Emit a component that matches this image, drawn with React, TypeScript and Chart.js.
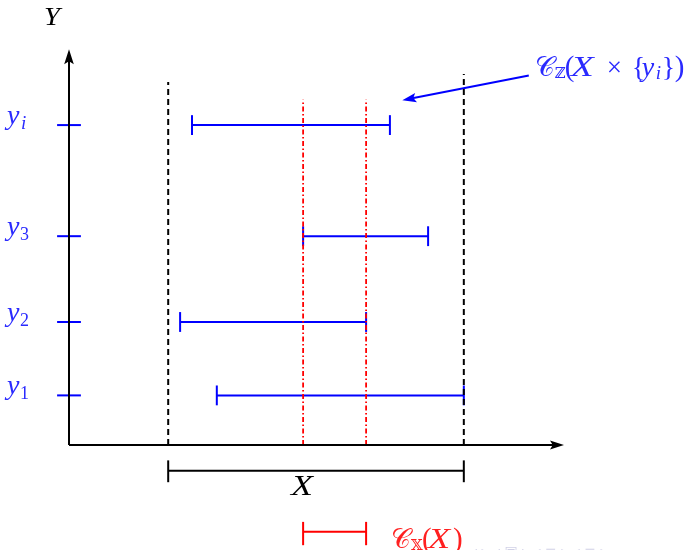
import React, { useEffect, useRef } from "react";
import { Chart, registerables } from "chart.js";
Chart.register(...registerables);

// ---- data (abstract units; same unit on both axes) ----
const levelNames = ["1", "2", "3", "i"];
const levelValues = [1.0, 2.48, 4.21, 6.45];
const intervalStart = [2.98, 2.24, 4.72, 2.48];
const intervalEnd = [7.96, 5.99, 7.24, 6.47];
const domainBounds = [2.0, 7.96];
const domainTops = [7.32, 7.48];
const projectionBounds = [4.72, 5.99];
const projectionTop = 6.96;
const axisXMax = 10.0;
const axisYMax = 8.0;
const domainBracketLevel = -0.52;
const projectionBracketLevel = -1.75;
const arrowFrom = [9.27, 7.45];
const arrowTo = [6.72, 6.95];

const U = 49.6;
const OX = 69;
const OY = 445;
const W = 687;
const H = 550;

const BLUE = "#0000ff";
const TEXT_BLUE = "#2a2aff";
const RED = "#ff0000";

function seg(x1: number, y1: number, x2: number, y2: number, color: string, width: number, dash: number[] = []) {
  return {
    data: [{ x: x1, y: y1 }, { x: x2, y: y2 }],
    showLine: true,
    borderColor: color,
    backgroundColor: color,
    borderWidth: width,
    borderDash: dash,
    pointRadius: 0,
    fill: false,
    tension: 0,
    borderCapStyle: "butt",
  };
}

type Piece = { t: string; it?: boolean; size: number; dy?: number; at: number; sx?: number };

function drawPieces(ctx: CanvasRenderingContext2D, x: number, y: number, pieces: Piece[], color: string) {
  ctx.save();
  ctx.fillStyle = color;
  ctx.textBaseline = "alphabetic";
  ctx.textAlign = "left";
  for (const p of pieces) {
    ctx.font = `${p.it ? "italic " : ""}${p.size}px "Liberation Serif", "DejaVu Serif", serif`;
    const k = p.sx || 1;
    ctx.save();
    ctx.translate(x + p.at, y + (p.dy || 0));
    ctx.scale(k, 1);
    ctx.fillText(p.t, 0, 0);
    ctx.restore();
  }
  ctx.restore();
}

function arrowHead(ctx: CanvasRenderingContext2D, tx: number, ty: number, fx: number, fy: number, len: number, half: number, color: string) {
  const a = Math.atan2(ty - fy, tx - fx);
  const c = Math.cos(a);
  const s = Math.sin(a);
  ctx.save();
  ctx.fillStyle = color;
  ctx.beginPath();
  ctx.moveTo(tx, ty);
  ctx.lineTo(tx - len * c + half * s, ty - len * s - half * c);
  ctx.lineTo(tx - len * 0.8 * c, ty - len * 0.8 * s);
  ctx.lineTo(tx - len * c - half * s, ty - len * s + half * c);
  ctx.closePath();
  ctx.fill();
  ctx.restore();
}

const overlay = {
  id: "overlay",
  afterDatasetsDraw(chart: any) {
    const ctx: CanvasRenderingContext2D = chart.ctx;
    const sx = chart.scales.x;
    const sy = chart.scales.y;
    const px = (v: number) => sx.getPixelForValue(v);
    const py = (v: number) => sy.getPixelForValue(v);
    // axis arrowheads
    arrowHead(ctx, px(0), py(axisYMax) + 1, px(0), py(0), 15, 4.8, "#000");
    arrowHead(ctx, px(axisXMax) - 1, py(0), px(0), py(0), 14, 4.5, "#000");
    // annotation arrow head
    arrowHead(ctx, px(arrowTo[0]), py(arrowTo[1]), px(arrowFrom[0]), py(arrowFrom[1]), 14, 4.8, BLUE);

    // level labels
    levelNames.forEach((n, i) => {
      const isLetter = /[a-z]/.test(n);
      drawPieces(ctx, 7, py(levelValues[i]) - 1, [
        { t: "y", it: true, size: 28, at: 0 },
        { t: n, it: isLetter, size: isLetter ? 19 : 18, dy: 5, at: isLetter ? 14 : 13 },
      ], TEXT_BLUE);
    });
    // Y label
    drawPieces(ctx, 44, 25, [{ t: "Y", it: true, size: 26, at: 0, sx: 1.1 }], "#000");
    // X label
    drawPieces(ctx, px(projectionBounds[0]) - 12, py(domainBracketLevel) + 24, [{ t: "X", it: true, size: 30, at: 0, sx: 1.2 }], "#000");
    // C_Z label
    drawPieces(ctx, px(arrowFrom[0]) + 6, 76, [
      { t: "𝒞", size: 27, at: 0 },
      { t: "ℤ", size: 15, dy: 2, at: 20 },
      { t: "(", size: 29, at: 30 },
      { t: "X", it: true, size: 29, at: 36, sx: 1.3 },
      { t: "×", size: 27, at: 72 },
      { t: "{", size: 28, at: 97 },
      { t: "y", it: true, size: 28, at: 107 },
      { t: "i", it: true, size: 19, dy: 3, at: 121 },
      { t: "}", size: 28, at: 127 },
      { t: ")", size: 29, at: 140 },
    ], TEXT_BLUE);
    // C_X label
    drawPieces(ctx, px(projectionBounds[1]) + 25, 548, [
      { t: "𝒞", size: 27, at: 0 },
      { t: "𝕏", size: 15, dy: 2, at: 20 },
      { t: "(", size: 29, at: 31 },
      { t: "X", it: true, size: 29, at: 37, sx: 1.25 },
      { t: ")", size: 29, at: 62 },
    ], "#ff2020");
    // faint navigation symbols
    ctx.save();
    ctx.fillStyle = "rgba(150,150,200,0.45)";
    ctx.font = '14px "DejaVu Sans", sans-serif';
    ctx.textAlign = "left";
    ctx.fillText("◂ ▸ ◂ ▣ ▸ ◂ ≡ ▸ ◂ ≡ ▸", 470, 556);
    ctx.restore();
  },
};

export default function App() {
  const ref = useRef<HTMLCanvasElement | null>(null);
  useEffect(() => {
    document.body.style.margin = "0";
    const cv = ref.current!;
    const datasets: any[] = [];
    const capX = 0.2;
    const tickHalf = 0.24;
    // axes
    datasets.push(seg(0, 0, 0, axisYMax - 0.2, "#000", 2));
    datasets.push(seg(0, 0, axisXMax - 0.2, 0, "#000", 2));
    // domain dashed lines
    domainBounds.forEach((b, i) => datasets.push(seg(b, 0, b, domainTops[i], "#000", 2, [6, 4])));
    // projection dash-dot lines
    projectionBounds.forEach((b) => datasets.push(seg(b, 0, b, projectionTop, RED, 1.8, [5, 2.5, 1.5, 2.5])));
    // y ticks and intervals
    levelValues.forEach((y, i) => {
      datasets.push(seg(-tickHalf, y, tickHalf, y, BLUE, 2));
      datasets.push(seg(intervalStart[i], y, intervalEnd[i], y, BLUE, 2));
      datasets.push(seg(intervalStart[i], y - capX, intervalStart[i], y + capX, BLUE, 2));
      datasets.push(seg(intervalEnd[i], y - capX, intervalEnd[i], y + capX, BLUE, 2));
    });
    // domain bracket
    const db = domainBracketLevel;
    datasets.push(seg(domainBounds[0], db, domainBounds[1], db, "#000", 2));
    datasets.push(seg(domainBounds[0], db - 0.23, domainBounds[0], db + 0.21, "#000", 2));
    datasets.push(seg(domainBounds[1], db - 0.23, domainBounds[1], db + 0.21, "#000", 2));
    // projection bracket
    const pb = projectionBracketLevel;
    datasets.push(seg(projectionBounds[0], pb, projectionBounds[1], pb, RED, 2));
    datasets.push(seg(projectionBounds[0], pb - 0.27, projectionBounds[0], pb + 0.2, RED, 2));
    datasets.push(seg(projectionBounds[1], pb - 0.27, projectionBounds[1], pb + 0.2, RED, 2));
    // annotation arrow shaft
    datasets.push(seg(arrowFrom[0], arrowFrom[1], arrowTo[0] + 0.2, arrowTo[1] + 0.04, BLUE, 2));

    const chart = new Chart(cv, {
      type: "scatter",
      data: { datasets },
      options: {
        animation: false,
        responsive: false,
        devicePixelRatio: 1,
        layout: { padding: 0 },
        plugins: { legend: { display: false }, tooltip: { enabled: false } },
        scales: {
          x: { type: "linear", display: false, min: -OX / U, max: (W - OX) / U },
          y: { type: "linear", display: false, min: (OY - H) / U, max: OY / U },
        },
      },
      plugins: [overlay],
    } as any);
    return () => chart.destroy();
  }, []);
  return <canvas ref={ref} width={W} height={H} style={{ display: "block" }} />;
}
